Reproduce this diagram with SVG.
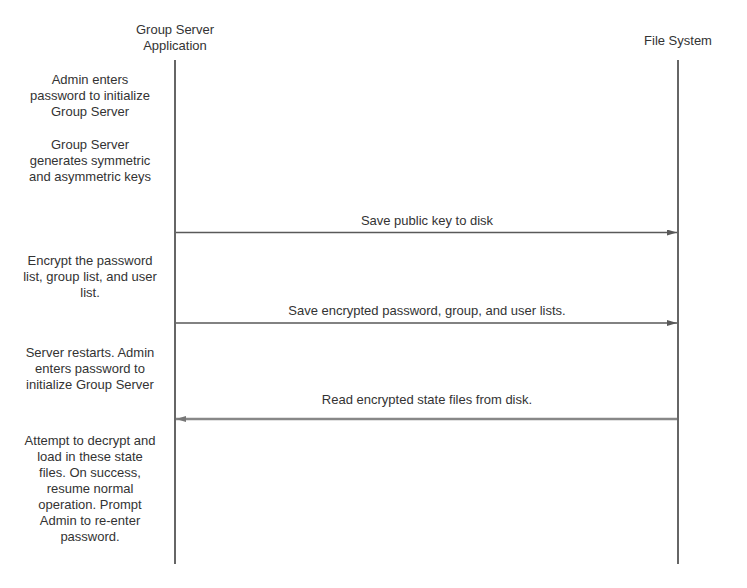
<svg xmlns="http://www.w3.org/2000/svg" width="747" height="588" viewBox="0 0 747 588">
<style>
text{font-family:"Liberation Sans",Arial,sans-serif;font-size:13px;fill:#333;text-anchor:middle}
.life{stroke:#666;stroke-width:2;fill:none}
.msg{stroke:#595959;stroke-width:1.5;fill:none}
.msg2{stroke:#888;stroke-width:2.5;fill:none}
</style>
<defs>
<marker id="ah" viewBox="0 0 10 6" refX="10" refY="3" markerWidth="10" markerHeight="6" markerUnits="userSpaceOnUse" orient="auto">
<path d="M0,0 L10,3 L0,6 Z" fill="#595959"/>
</marker>
<marker id="ah2" viewBox="0 0 10 6" refX="10" refY="3" markerWidth="10" markerHeight="6" markerUnits="userSpaceOnUse" orient="auto">
<path d="M0,0 L10,3 L0,6 Z" fill="#777"/>
</marker>
</defs>
<rect width="747" height="588" fill="#fff"/>
<g id="gsa">
<text x="175" y="34">Group Server</text>
<text x="175" y="50">Application</text>
<line class="life" x1="175" y1="60" x2="175" y2="564"/>
</g>
<g id="fs">
<text x="678" y="45">File System</text>
<line class="life" x1="678" y1="60" x2="678" y2="564"/>
</g>
<g id="note1">
<text x="90" y="84">Admin enters</text>
<text x="90" y="100">password to initialize</text>
<text x="90" y="116">Group Server</text>
</g>
<g id="note2">
<text x="90" y="149">Group Server</text>
<text x="90" y="165">generates symmetric</text>
<text x="90" y="181">and asymmetric keys</text>
</g>
<g id="note3">
<text x="90" y="265">Encrypt the password</text>
<text x="90" y="281">list, group list, and user</text>
<text x="90" y="297">list.</text>
</g>
<g id="note4">
<text x="90" y="357">Server restarts. Admin</text>
<text x="90" y="373">enters password to</text>
<text x="90" y="389">initialize Group Server</text>
</g>
<g id="note5">
<text x="90" y="445">Attempt to decrypt and</text>
<text x="90" y="461">load in these state</text>
<text x="90" y="477">files. On success,</text>
<text x="90" y="493">resume normal</text>
<text x="90" y="509">operation. Prompt</text>
<text x="90" y="525">Admin to re-enter</text>
<text x="90" y="541">password.</text>
</g>
<g id="connectors">
<line class="msg" x1="176" y1="232.5" x2="677" y2="232.5" marker-end="url(#ah)"/>
<text x="427" y="225">Save public key to disk</text>
<line class="msg" x1="176" y1="323" x2="677" y2="323" marker-end="url(#ah)"/>
<text x="427" y="315">Save encrypted password, group, and user lists.</text>
<line class="msg2" x1="677" y1="419" x2="176" y2="419" marker-end="url(#ah2)"/>
<text x="427" y="404">Read encrypted state files from disk.</text>
</g>
</svg>
